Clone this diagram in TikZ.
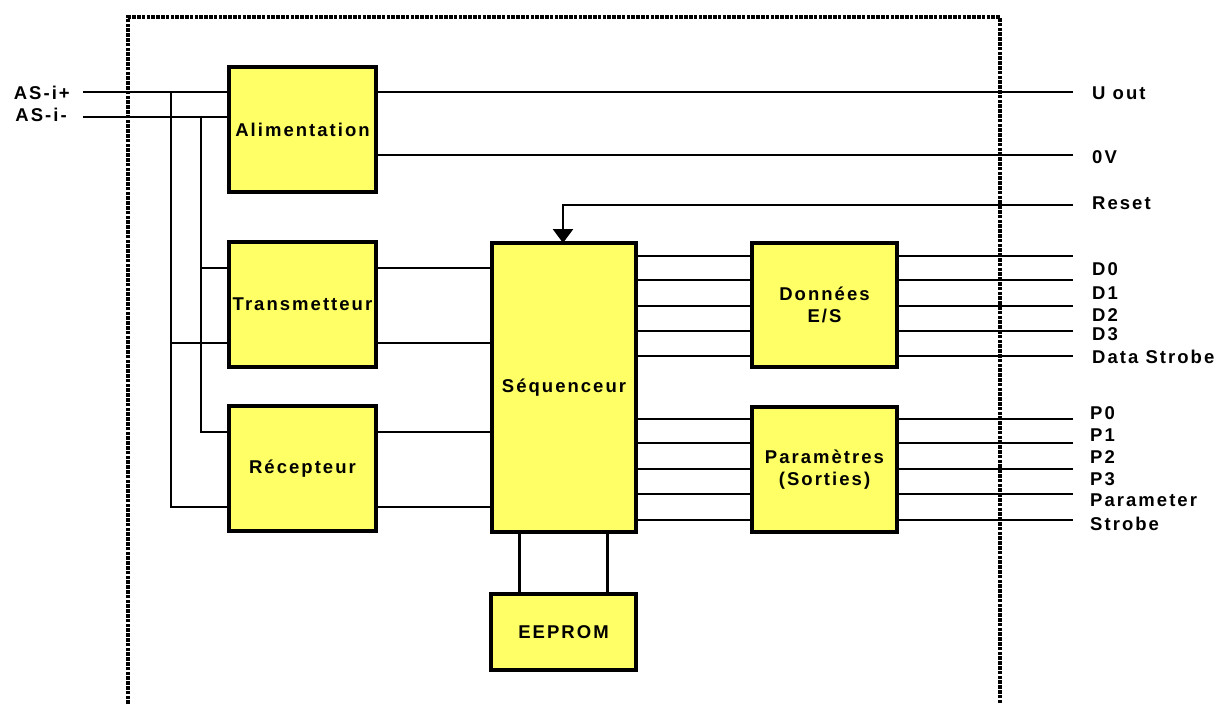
\documentclass[tikz,border=0pt]{standalone}
\usepackage{fontspec}
\setmainfont{Liberation Sans}[LetterSpace=11]
\usetikzlibrary{arrows.meta}
\definecolor{boxfill}{HTML}{FFFF66}
\tikzset{
  blk/.style={draw=black, line width=3.6pt, fill=boxfill, inner sep=0pt, outer sep=0pt,
    align=center, font=\fontsize{18.5}{22}\selectfont\bfseries},
  wire/.style={draw=black, line width=2.7pt},
  lbl/.style={inner sep=0pt, font=\fontsize{18.5}{21}\selectfont\bfseries},
  frame/.style={draw=black, line width=3.6pt, dash pattern=on 3.6pt off 1.2pt}
}
\begin{document}
\begin{tikzpicture}[x=1pt,y=-1pt]
\useasboundingbox (0,0) rectangle (1222,704);
% frame
\draw[frame] (128,704) -- (128,17) -- (1000,17) -- (1000,704);
% blocks
\node[blk, minimum width=147pt, minimum height=125pt] (alim) at (302.5,129.5) {Alimentation};
\node[blk, minimum width=147pt, minimum height=125pt] (trans) at (302.5,304.5) {Transmetteur};
\node[blk, minimum width=147pt, minimum height=125pt] (recep) at (302.5,468.5) {Récepteur};
\node[blk, minimum width=144pt, minimum height=289pt] (seq) at (564,387.5) {Séquenceur};
\node[blk, minimum width=145pt, minimum height=124pt] (don) at (824.5,305) {Données\\E/S};
\node[blk, minimum width=145pt, minimum height=125pt] (par) at (824.5,469.5) {Paramètres\\(Sorties)};
\node[blk, minimum width=145pt, minimum height=76pt] (eep) at (563.5,632) {EEPROM};
% left labels
\node[lbl, anchor=east] (asp) at (70,93) {AS-i+};
\node[lbl, anchor=east] (asm) at (67,115) {AS-i-};
\coordinate (ap) at (83,92);
\coordinate (am) at (83,117);
\coordinate (jp) at (171,92);
\coordinate (jm) at (201,117);
\draw[wire] (ap) -- (alim.west |- ap);
\draw[wire] (am) -- (alim.west |- am);
\draw[wire] (jp) -- (171,507) -- (recep.west |- 0,507);
\draw[wire] (171,343) -- (trans.west |- 0,343);
\draw[wire] (jm) -- (201,432) -- (recep.west |- 0,432);
\draw[wire] (201,268) -- (trans.west |- 0,268);
% to sequencer
\draw[wire] (trans.east |- 0,268) -- (seq.west |- 0,268);
\draw[wire] (trans.east |- 0,343) -- (seq.west |- 0,343);
\draw[wire] (recep.east |- 0,432) -- (seq.west |- 0,432);
\draw[wire] (recep.east |- 0,507) -- (seq.west |- 0,507);
% EEPROM
\draw[wire] (seq.south -| 519.5,0) -- (eep.north -| 519.5,0);
\draw[wire] (seq.south -| 607.5,0) -- (eep.north -| 607.5,0);
% right labels and lines
\node[lbl, anchor=west] (uout) at (1092,93) {U out};
\node[lbl, anchor=west] (zv) at (1092,157) {0V};
\node[lbl, anchor=west] (rst) at (1092,203) {Reset};
\coordinate (cu) at (1073,92);
\coordinate (cz) at (1073,155);
\coordinate (cr) at (1073,205);
\draw[wire] (alim.east |- cu) -- (cu);
\draw[wire] (alim.east |- cz) -- (cz);
\draw[wire, -{Triangle[width=20pt,length=14pt]}] (cr) -- (563,205) -- (seq.north -| 563,0);
% data lines
\foreach \y/\t [count=\i] in {256/D0, 280/D1, 306/D2, 331/D3, 356/Data Strobe}{
  \draw[wire] (seq.east |- 0,\y) -- (don.west |- 0,\y);
  \coordinate (cd\i) at (1073,\y);
  \draw[wire] (don.east |- cd\i) -- (cd\i);
}
\node[lbl, anchor=west] (d0) at (1092,269) {D0};
\node[lbl, anchor=west] (d1) at (1092,293) {D1};
\node[lbl, anchor=west] (d2) at (1092,315) {D2};
\node[lbl, anchor=west] (d3) at (1092,334) {D3};
\node[lbl, anchor=west] (ds) at (1092,357) {Data Strobe};
% parameter lines
\foreach \y [count=\i] in {419,443,469,494,520}{
  \draw[wire] (seq.east |- 0,\y) -- (par.west |- 0,\y);
  \coordinate (cp\i) at (1073,\y);
  \draw[wire] (par.east |- cp\i) -- (cp\i);
}
\node[lbl, anchor=west] (p0) at (1090,413) {P0};
\node[lbl, anchor=west] (p1) at (1090,435) {P1};
\node[lbl, anchor=west] (p2) at (1090,457) {P2};
\node[lbl, anchor=west] (p3) at (1090,479) {P3};
\node[lbl, anchor=west] (pm) at (1090,500) {Parameter};
\node[lbl, anchor=west] (st) at (1090,524) {Strobe};
\end{tikzpicture}
\end{document}
